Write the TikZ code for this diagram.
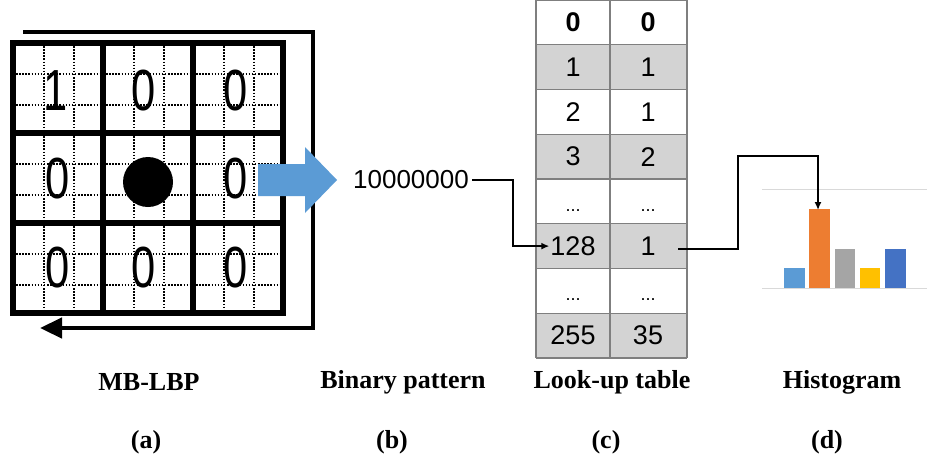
\documentclass[tikz,border=0pt]{standalone}
\usepackage{fontspec}
\setmainfont{Liberation Serif}
\newfontfamily\sansf{Liberation Sans}
\usetikzlibrary{arrows.meta}
\definecolor{tblgray}{HTML}{D3D3D3}
\definecolor{tblline}{HTML}{7F7F7F}
\definecolor{arrowblue}{HTML}{5B9BD5}
\definecolor{barblue}{HTML}{5B9BD5}
\definecolor{barorange}{HTML}{ED7D31}
\definecolor{bargray}{HTML}{A5A5A5}
\definecolor{baryellow}{HTML}{FFC000}
\definecolor{bardblue}{HTML}{4472C4}
\definecolor{axisgray}{HTML}{D9D9D9}
\tikzset{
  thickgrid/.style={line width=6pt, line cap=rect},
  dotgrid/.style={line width=1.8pt, dash pattern=on 1.5pt off 1.6pt},
  bigdigit/.style={font=\sansf\fontsize{58}{58}\selectfont, xscale=0.75, inner sep=0pt},
  loopline/.style={line width=4.5pt, line join=miter, -{Triangle[length=22pt,width=20pt]}},
  tbltxt/.style={font=\sansf\fontsize{27}{27}\selectfont, inner sep=0pt},
  tbldots/.style={font=\sansf\fontsize{18}{18}\selectfont, inner sep=0pt, anchor=base},
  conn/.style={line width=1.5pt, line join=miter},
  connarrow/.style={conn, -{Latex[length=8pt,width=7pt]}},
  caption/.style={font=\bfseries\fontsize{26}{26}\selectfont, inner sep=0pt},
}
\begin{document}
\begin{tikzpicture}[x=1pt,y=-1pt]
\useasboundingbox[fill=white] (0,0) rectangle (941,461);

% ---------- (a) MB-LBP grid ----------
\foreach \i in {0,1,2}{
  \foreach \j in {0,1,2}{
    \pgfmathsetmacro{\xa}{13+90*\i}
    \pgfmathsetmacro{\ya}{43+90*\j}
    \draw[dotgrid] (\xa+31,\ya+3) -- (\xa+31,\ya+87);
    \draw[dotgrid] (\xa+61,\ya+3) -- (\xa+61,\ya+87);
    \draw[dotgrid] (\xa+3,\ya+31) -- (\xa+87,\ya+31);
    \draw[dotgrid] (\xa+3,\ya+62) -- (\xa+87,\ya+62);
  }
}
\foreach \k in {0,1,2,3}{
  \draw[thickgrid] (13+90*\k,43) -- (13+90*\k,313);
  \draw[thickgrid] (13,43+90*\k) -- (283,43+90*\k);
}
\node[bigdigit] (d11) at (56,91) {1};
\node[bigdigit] (d12) at (144,91) {0};
\node[bigdigit] (d13) at (236,91) {0};
\node[bigdigit] (d21) at (58,179) {0};
\node[circle, fill=black, minimum size=50pt, inner sep=0pt] (ctr) at (148,182) {};
\node[bigdigit] (d23) at (236,179) {0};
\node[bigdigit] (d31) at (58,268) {0};
\node[bigdigit] (d32) at (144,268) {0};
\node[bigdigit] (d33) at (236,268) {0};

% loop arrow
\coordinate (lt) at (23,32);
\coordinate (rt) at (313,32);
\coordinate (rb) at (313,328);
\coordinate (lb) at (40,328);
\draw[loopline] (lt) -- (rt) -- (rb) -- (lb);

% blue block arrow
\fill[arrowblue] (258,164) -- (305,164) -- (305,147) -- (337,180) -- (305,213) -- (305,196) -- (258,196) -- cycle;

% ---------- (b) binary pattern ----------
\node[tbltxt, font=\sansf\fontsize{26}{26}\selectfont] (bp) at (411,180) {10000000};

% ---------- (c) look-up table ----------
\foreach \r in {0,...,7}{
  \pgfmathsetmacro{\ya}{44.75*\r}
  \pgfmathparse{mod(\r,2)==1 ? 1 : 0}
  \ifnum\pgfmathresult=1
    \fill[tblgray] (536,\ya) rectangle (687,\ya+44.75);
  \fi
}
\foreach \r in {0,...,8}{
  \draw[tblline, line width=1.3pt] (536,44.75*\r) -- (687,44.75*\r);
}
\draw[tblline, line width=1.3pt] (536,0) -- (536,358);
\draw[tblline, line width=1.3pt] (610,0) -- (610,358);
\draw[tblline, line width=1.3pt] (687,0) -- (687,358);

\node[tbltxt, font=\sansf\bfseries\fontsize{27}{27}\selectfont] (k0) at (573,22.4) {0};
\node[tbltxt, font=\sansf\bfseries\fontsize{27}{27}\selectfont] (v0) at (648,22.4) {0};
\node[tbltxt] (k1) at (573,67.1) {1};
\node[tbltxt] (v1) at (648,67.1) {1};
\node[tbltxt] (k2) at (573,111.9) {2};
\node[tbltxt] (v2) at (648,111.9) {1};
\node[tbltxt] (k3) at (573,156.6) {3};
\node[tbltxt] (v3) at (648,156.6) {2};
\node[tbldots] (k4) at (573,211) {...};
\node[tbldots] (v4) at (648,211) {...};
\node[tbltxt] (k5) at (573,246.1) {128};
\node[tbltxt] (v5) at (648,246.1) {1};
\node[tbldots] (k6) at (573,300) {...};
\node[tbldots] (v6) at (648,300) {...};
\node[tbltxt] (k7) at (573,335.6) {255};
\node[tbltxt] (v7) at (648,335.6) {35};

% connector binary pattern -> 128
\coordinate (bend1) at (513,180);
\draw[connarrow] (bp.east) ++(3,0) -- (bend1) |- ([xshift=-1pt]k5.west);

% ---------- (d) histogram ----------
\draw[axisgray, line width=1pt] (762,189) -- (927,189);
\draw[axisgray, line width=1pt] (762,288) -- (927,288);
\fill[barblue]   (784,288) rectangle (805,268);
\fill[barorange] (809,288) rectangle (830,209);
\fill[bargray]   (835,288) rectangle (855,249);
\fill[baryellow] (860,288) rectangle (880,268);
\fill[bardblue]  (885,288) rectangle (906,249);
\coordinate (orangetop) at (818,210);

% connector 1 -> histogram
\coordinate (hstart) at (678,249);
\coordinate (hup) at (738,156);
\draw[connarrow] (hstart) -| (hup) -| (orangetop);

% ---------- captions ----------
\node[caption] (la) at (149,382) {MB-LBP};
\node[caption] (lb2) at (403,382) {Binary pattern};
\node[caption] (lc) at (612,382) {Look-up table};
\node[caption] (ld) at (842,382) {Histogram};
\node[caption] (ca) at (146,442) {(a)};
\node[caption] (cb) at (392,442) {(b)};
\node[caption] (cc) at (606,442) {(c)};
\node[caption] (cd) at (827,442) {(d)};
\end{tikzpicture}
\end{document}
